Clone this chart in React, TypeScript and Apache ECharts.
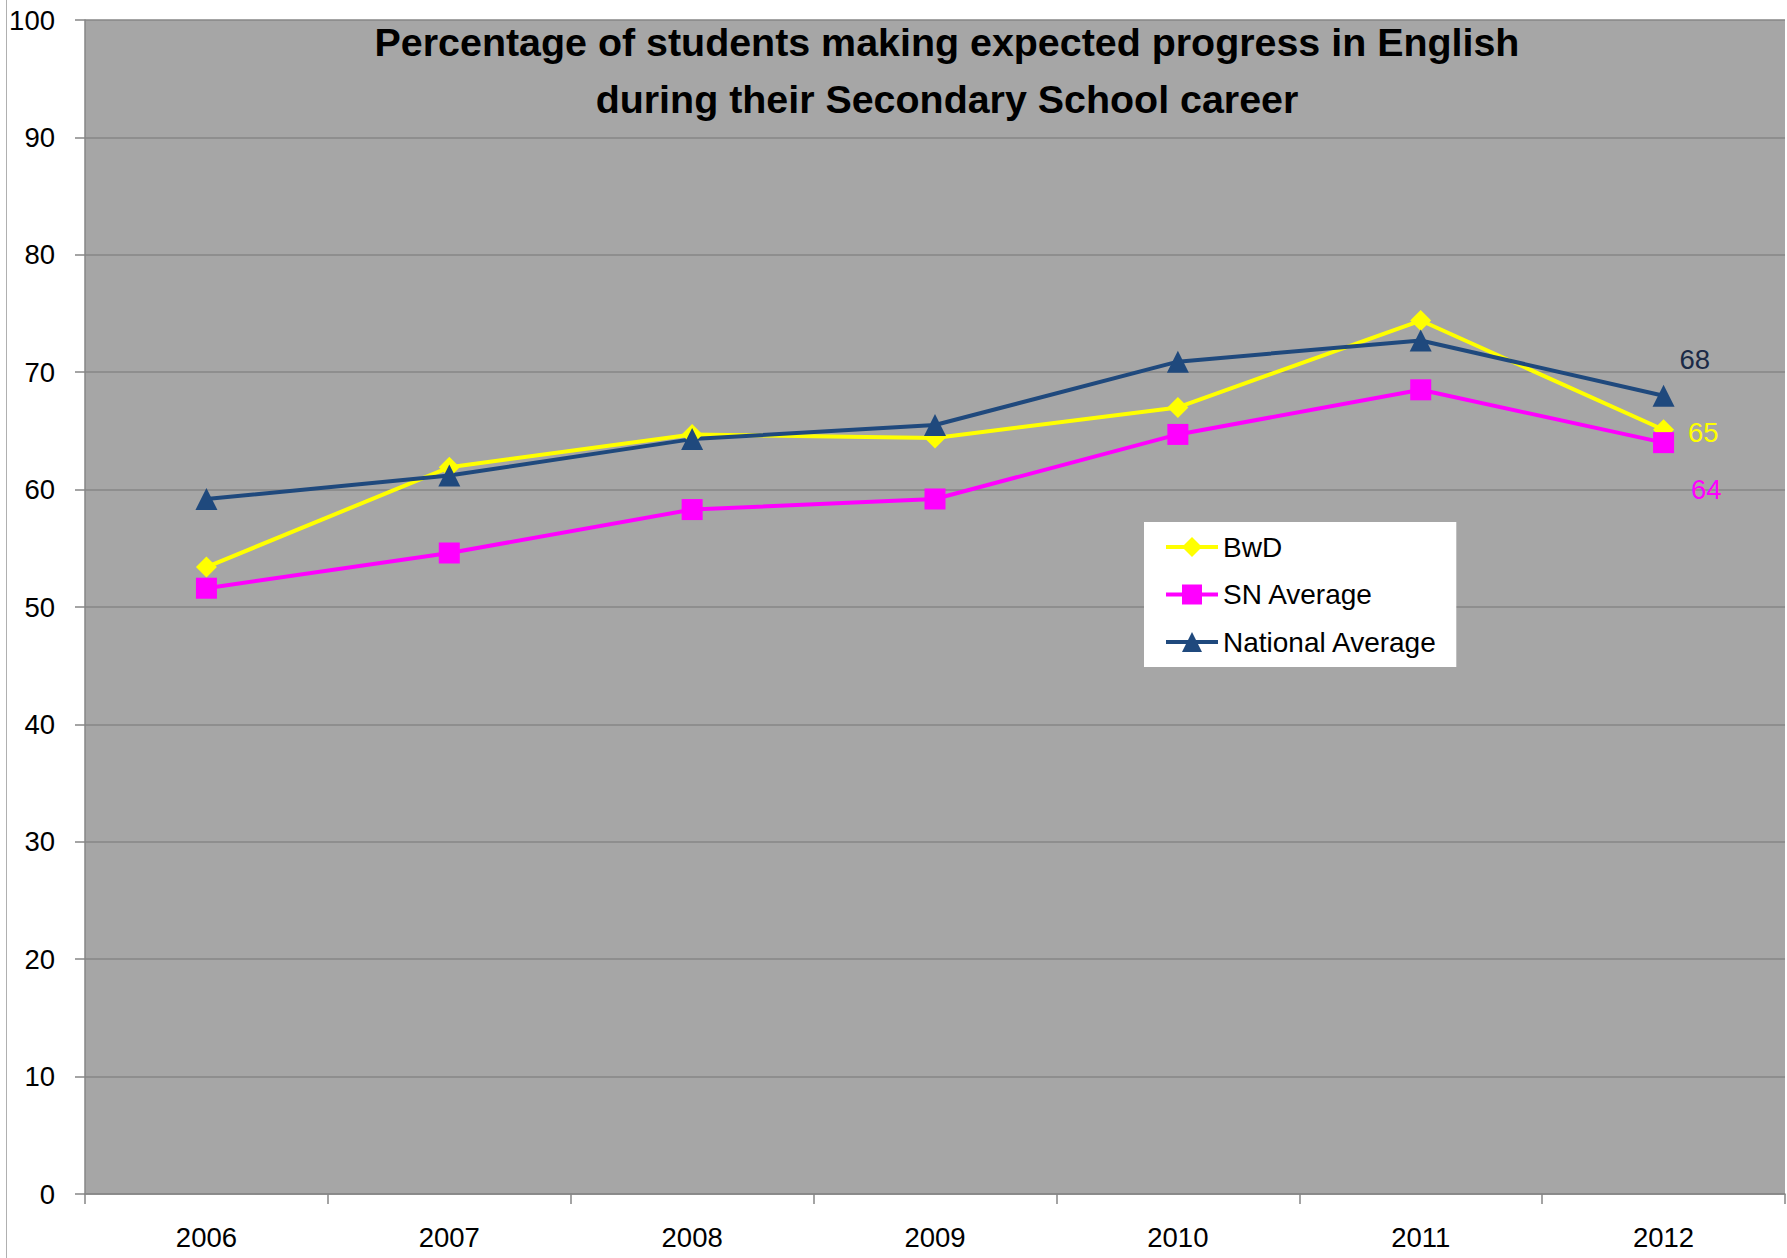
import React, { useEffect, useRef } from "react";
import * as echarts from "echarts";

const years = ["2006", "2007", "2008", "2009", "2010", "2011", "2012"];
const bwd = [53.4, 61.9, 64.7, 64.4, 67.0, 74.4, 65.1];
const snAverage = [51.6, 54.6, 58.3, 59.2, 64.7, 68.5, 64.0];
const nationalAverage = [59.2, 61.2, 64.3, 65.5, 70.9, 72.7, 68.0];
const titleLines = [
  "Percentage of students making expected progress in English",
  "during their Secondary School career",
];

const FONT = "Liberation Sans, Arial, sans-serif";
const AXIS_GRAY = "#868686";
const LABEL_SIZE = 27.5;

function lastLabel(values: number[], color: string, offset: [number, number]) {
  return values.map((v, i) =>
    i === values.length - 1
      ? {
          value: v,
          label: {
            show: true,
            position: "right",
            offset,
            color,
            fontSize: LABEL_SIZE,
            fontFamily: FONT,
            formatter: (p: any) => String(Math.round(p.value)),
          },
        }
      : v
  );
}

export default function App() {
  const ref = useRef<HTMLDivElement>(null);
  useEffect(() => {
    document.body.style.margin = "0";
    const chart = echarts.init(ref.current!, undefined, { renderer: "svg" });
    chart.setOption({
      animation: false,
      backgroundColor: "#ffffff",
      graphic: [
        {
          type: "line",
          shape: { x1: 6.5, y1: 0, x2: 6.5, y2: 1258 },
          style: { stroke: "#b0b0b0", lineWidth: 1 },
          silent: true,
        },
        {
          type: "text",
          x: 947,
          y: 70.5,
          style: {
            text: titleLines.join("\n"),
            font: `bold 39.4px ${FONT}`,
            fill: "#000000",
            align: "center",
            verticalAlign: "middle",
            lineHeight: 57,
          },
          z: 100,
        },
      ],
      grid: {
        left: 85,
        top: 20,
        width: 1700,
        height: 1174,
        show: true,
        backgroundColor: "#a6a6a6",
        borderWidth: 0,
      },
      legend: {
        orient: "vertical",
        left: 1144,
        top: 522,
        data: ["BwD", "SN Average", "National Average"],
        backgroundColor: "#ffffff",
        padding: [11, 19, 11, 20],
        itemWidth: 52,
        itemHeight: 25,
        itemGap: 19.5,
        lineStyle: { width: 4 },
        textStyle: { fontSize: 28, fontFamily: FONT, color: "#000000", lineHeight: 28 },
      },
      xAxis: {
        type: "category",
        data: years,
        boundaryGap: true,
        axisLine: { lineStyle: { color: AXIS_GRAY, width: 1.5 } },
        axisTick: { show: true, interval: 0, length: 10, lineStyle: { color: AXIS_GRAY, width: 1.5 } },
        axisLabel: { fontSize: LABEL_SIZE, fontFamily: FONT, color: "#000000", margin: 29, lineHeight: 28 },
        splitLine: { show: false },
      },
      yAxis: {
        type: "value",
        min: 0,
        max: 100,
        interval: 10,
        axisLine: { show: true, lineStyle: { color: AXIS_GRAY, width: 1.5 } },
        axisTick: { show: true, length: 10, lineStyle: { color: AXIS_GRAY, width: 1.5 } },
        axisLabel: { fontSize: LABEL_SIZE, fontFamily: FONT, color: "#000000", margin: 30 },
        splitLine: { show: true, lineStyle: { color: AXIS_GRAY, width: 1.5 } },
      },
      series: [
        {
          name: "BwD",
          type: "line",
          data: lastLabel(bwd, "#FFFF00", [9, 3]),
          symbol: "diamond",
          symbolSize: 21,
          lineStyle: { color: "#FFFF00", width: 4 },
          itemStyle: { color: "#FFFF00" },
        },
        {
          name: "SN Average",
          type: "line",
          data: lastLabel(snAverage, "#FF00FF", [12, 47]),
          symbol: "rect",
          symbolSize: 21,
          lineStyle: { color: "#FF00FF", width: 4 },
          itemStyle: { color: "#FF00FF" },
        },
        {
          name: "National Average",
          type: "line",
          data: lastLabel(nationalAverage, "#1B2A47", [0, -36]),
          symbol: "triangle",
          symbolSize: 22,
          lineStyle: { color: "#1F497D", width: 4 },
          itemStyle: { color: "#1F497D" },
        },
      ],
    });
    return () => chart.dispose();
  }, []);
  return <div ref={ref} style={{ width: 1787, height: 1258 }} />;
}
